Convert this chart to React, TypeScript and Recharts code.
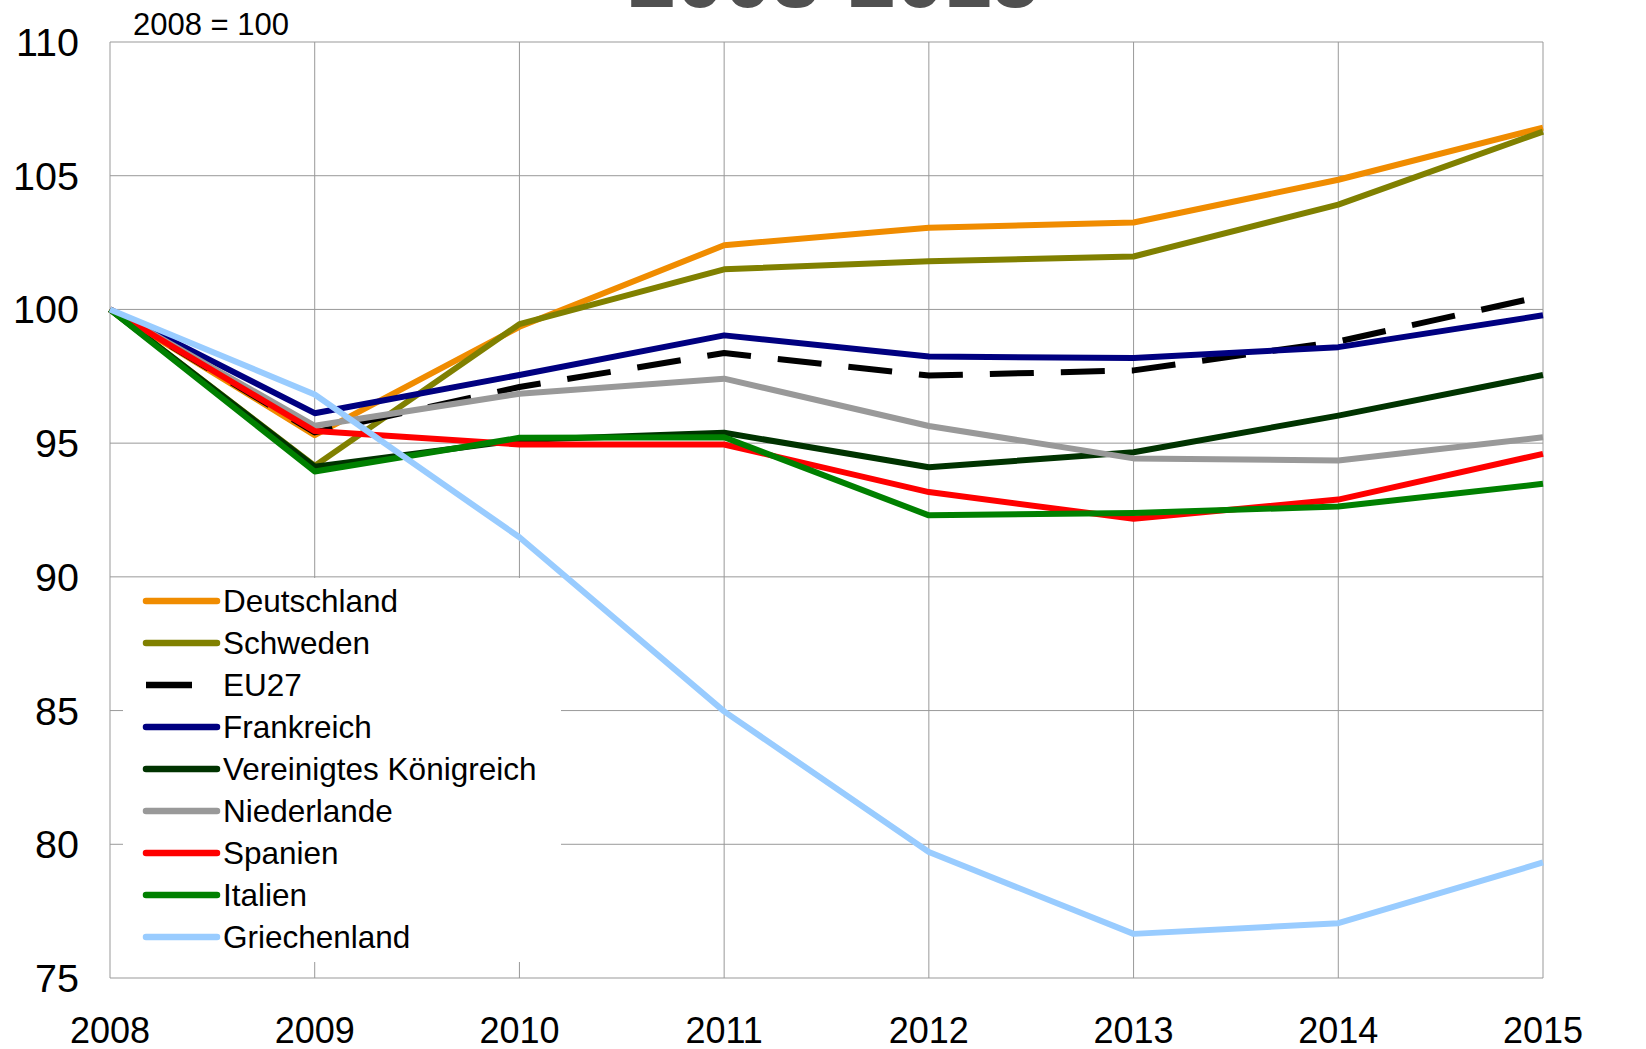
import { LineChart, Line, XAxis, YAxis, CartesianGrid, Legend, Label } from "recharts";

const years = ["2008", "2009", "2010", "2011", "2012", "2013", "2014", "2015"];
const yTicks = [75, 80, 85, 90, 95, 100, 105, 110];

const deutschland = [100, 95.3, 99.35, 102.4, 103.05, 103.25, 104.85, 106.8];
const schweden = [100, 94.15, 99.45, 101.5, 101.8, 101.98, 103.92, 106.65];
const eu27 = [100, 95.4, 97.1, 98.37, 97.53, 97.72, 98.8, 100.5];
const frankreich = [100, 96.12, 97.55, 99.03, 98.24, 98.18, 98.59, 99.78];
const vereinigtesKoenigreich = [100, 94.12, 95.12, 95.39, 94.1, 94.66, 96.03, 97.55];
const niederlande = [100, 95.65, 96.85, 97.41, 95.64, 94.43, 94.35, 95.22];
const spanien = [100, 95.45, 94.95, 94.95, 93.17, 92.17, 92.89, 94.6];
const italien = [100, 93.94, 95.2, 95.22, 92.3, 92.39, 92.63, 93.48];
const griechenland = [100, 96.82, 91.48, 84.97, 79.71, 76.65, 77.05, 79.32];

const FONT = "'Liberation Sans', Arial, sans-serif";

const series = [
  { key: "Deutschland", values: deutschland, color: "#F08C00" },
  { key: "Schweden", values: schweden, color: "#808000" },
  { key: "EU27", values: eu27, color: "#000000", dash: "44 27" },
  { key: "Frankreich", values: frankreich, color: "#000080" },
  { key: "Vereinigtes Königreich", values: vereinigtesKoenigreich, color: "#003300" },
  { key: "Niederlande", values: niederlande, color: "#999999" },
  { key: "Spanien", values: spanien, color: "#FF0000" },
  { key: "Italien", values: italien, color: "#008000" },
  { key: "Griechenland", values: griechenland, color: "#99CCFF" },
];

const data = years.map((year, i) => {
  const row: Record<string, string | number> = { year };
  series.forEach(s => { row[s.key] = s.values[i]; });
  return row;
});

const LeftTick = ({ x, y, payload }: any) => (
  <text x={x} y={y} dy={14} textAnchor="end" fontSize={39.5} fontFamily={FONT} fill="#000">
    {payload.value}
  </text>
);

const RightTick = ({ x, y, payload }: any) => (
  <text x={x} y={y} dy={14} textAnchor="start" fontSize={39.5} fontFamily={FONT} fill="#000">
    {payload.value}
  </text>
);

const BottomTick = ({ x, y, payload }: any) => (
  <text x={x} y={y} textAnchor="middle" fontSize={36} fontFamily={FONT} fill="#000">
    {payload.value}
  </text>
);

const LegendBox = () => (
  <div style={{ background: "#fff", width: 438, height: 384, paddingTop: 2, boxSizing: "border-box" }}>
    {series.map(s => (
      <div key={s.key} style={{ display: "flex", alignItems: "center", height: 42 }}>
        <svg width={100} height={42} style={{ flex: "none" }}>
          {s.dash ? (
            <line x1={23} x2={69} y1={21} y2={21} stroke={s.color} strokeWidth={6.5} />
          ) : (
            <line x1={23} x2={94} y1={21} y2={21} stroke={s.color} strokeWidth={6.5} strokeLinecap="round" />
          )}
        </svg>
        <span style={{ fontFamily: FONT, fontSize: 31.5, color: "#000", whiteSpace: "nowrap", lineHeight: "42px" }}>
          {s.key}
        </span>
      </div>
    ))}
  </div>
);

const Headings = () => (
  <g>
    <text x={834} y={7} textAnchor="middle" fontSize={86} fontWeight="bold" fontFamily={FONT} fill="#505050">
      2008-2015
    </text>
    <text x={133} y={35} fontSize={31} fontFamily={FONT} fill="#000">
      2008 = 100
    </text>
  </g>
);

export default function App() {
  return (
    <div style={{ position: "absolute", left: 0, top: 0, width: 1646, height: 1049, background: "#fff" }}>
      <LineChart width={1646} height={1049} data={data} margin={{ top: 42, right: 23, bottom: 11, left: 30 }}>
        <CartesianGrid stroke="#999" strokeWidth={1} />
        <XAxis
          dataKey="year"
          axisLine={false}
          tickLine={false}
          tickSize={0}
          tickMargin={65}
          height={60}
          tick={<BottomTick />}
          interval={0}
        />
        <YAxis
          domain={[75, 110]}
          ticks={yTicks}
          axisLine={false}
          tickLine={false}
          tickSize={0}
          tickMargin={31}
          width={80}
          tick={<LeftTick />}
          interval={0}
        >
          <Label content={<Headings />} />
        </YAxis>
        <YAxis
          yAxisId="right"
          orientation="right"
          domain={[75, 110]}
          ticks={yTicks}
          axisLine={false}
          tickLine={false}
          tickSize={0}
          tickMargin={30}
          width={80}
          tick={<RightTick />}
          interval={0}
        />
        <Legend
          layout="vertical"
          align="center"
          verticalAlign="middle"
          content={<LegendBox />}
          wrapperStyle={{ left: 123, top: 578, width: 438, height: 384 }}
        />
        {series.map(s => (
          <Line
            key={s.key}
            type="linear"
            dataKey={s.key}
            stroke={s.color}
            strokeWidth={6}
            strokeDasharray={s.dash}
            strokeLinejoin="round"
            dot={false}
            activeDot={false}
            isAnimationActive={false}
          />
        ))}
      </LineChart>
    </div>
  );
}
